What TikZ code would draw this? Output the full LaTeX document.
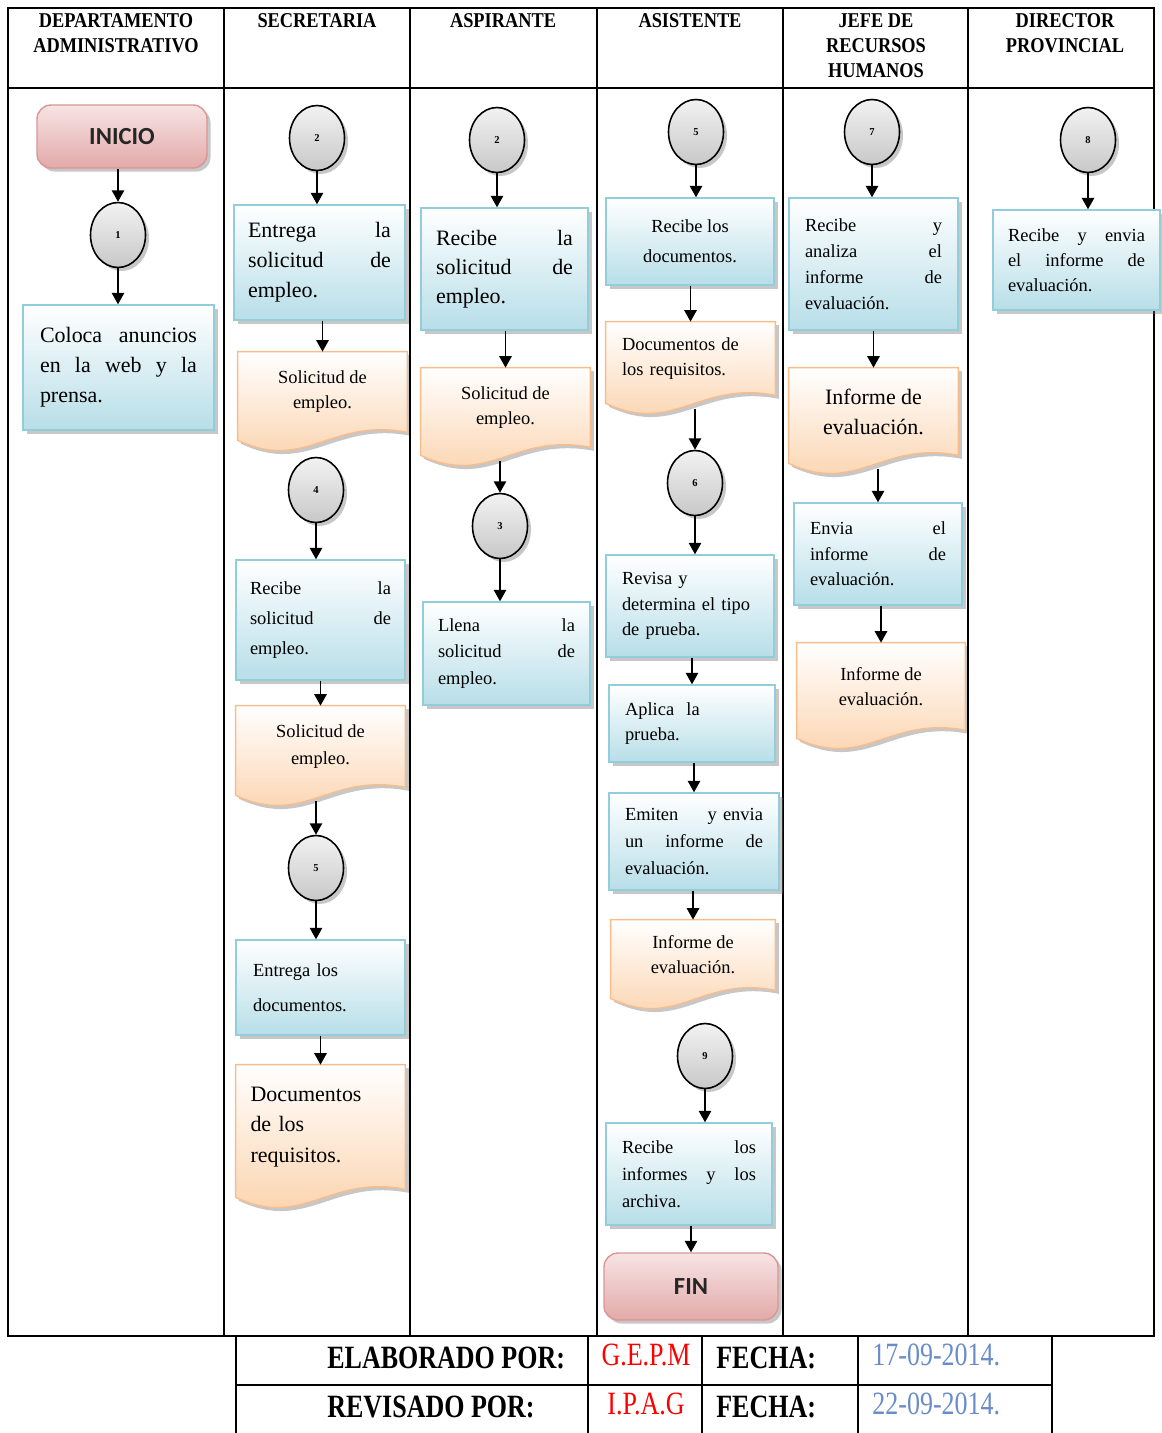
\documentclass[tikz,border=0pt]{standalone}
\usepackage{fontspec}
\setmainfont{Liberation Serif}
\newfontfamily\hdrfont[FakeStretch=0.87]{Liberation Serif}
\newfontfamily\ftrfont[FakeStretch=0.8]{Liberation Serif}
\newfontfamily\termfont{Carlito}
\usetikzlibrary{arrows.meta,positioning,shapes.geometric,shadows,calc}
\definecolor{boxbot}{HTML}{B7DEE8}
\definecolor{boxline}{HTML}{92CDDC}
\definecolor{docbot}{HTML}{FBCFA6}
\definecolor{docline}{HTML}{F9BD8C}
\definecolor{termtop}{HTML}{F7E4E4}
\definecolor{termbot}{HTML}{E3A9A9}
\definecolor{termline}{HTML}{D99694}
\definecolor{conntop}{HTML}{F2F2F2}
\definecolor{connbot}{HTML}{C8C8C8}
\definecolor{redtxt}{HTML}{FF0000}
\definecolor{datetxt}{HTML}{6A8CC8}
\pgfdeclarelayer{bg}
\pgfsetlayers{bg,main}
\begin{document}
\begin{tikzpicture}[
  x=0.02cm, y=-0.02cm,
  sz/.style 2 args={minimum width=#1*0.02cm, minimum height=#2*0.02cm},
  shd/.style={drop shadow={shadow xshift=2pt, shadow yshift=-2pt, opacity=0.4, fill=black!55}},
  hdr/.style={font=\hdrfont\bfseries\fontsize{12}{14.4}\selectfont, align=center, anchor=north, inner sep=0pt},
  term/.style={draw=termline, line width=0.8pt, rounded corners=8pt, top color=termtop, bottom color=termbot, shd, text=black!85, font=\termfont\bfseries\fontsize{14}{16}\selectfont},
  conn/.style={ellipse, draw=black, line width=0.9pt, top color=conntop, bottom color=connbot, shd, sz={55}{65}, inner sep=0pt, font=\bfseries\fontsize{6}{7}\selectfont},
  proc/.style={draw=boxline, line width=0.8pt, top color=white, bottom color=boxbot, shd, align=left, inner sep=0pt},
  docnode/.style={align=center, inner sep=0pt},
  docshape/.style={draw=docline, line width=0.8pt, top color=white, bottom color=docbot, shd},
  txtL/.style={font=\fontsize{12.5}{#1}\selectfont}, txtL/.default=17,
  txtS/.style={font=\fontsize{10.5}{#1}\selectfont}, txtS/.default=14.5,
  arr/.style={-{Triangle[width=7pt,length=6.5pt]}, line width=1pt},
  lane/.style={line width=1.2pt},
  ftr/.style={font=\ftrfont\bfseries\fontsize{18.5}{20}\selectfont, anchor=west, inner sep=0pt},
  ftrval/.style={font=\ftrfont\fontsize{18.5}{20}\selectfont, inner sep=0pt},
]
\useasboundingbox (0,0) rectangle (1162,1433);

\draw[lane] (8,8) rectangle (1154,1336);
\draw[lane] (8,88) -- (1154,88);
\foreach \x in {224,410,597,783,968} \draw[lane] (\x,8) -- (\x,1336);

\node[hdr] (hDep) at (116,13) {DEPARTAMENTO\\ADMINISTRATIVO};
\node[hdr] (hSec) at (317,13) {SECRETARIA};
\node[hdr] (hAsp) at (503,13) {ASPIRANTE};
\node[hdr] (hAsi) at (690,13) {ASISTENTE};
\node[hdr] (hJefe) at (876,13) {JEFE DE\\RECURSOS\\HUMANOS};
\node[hdr] (hDir) at (1065,13) {DIRECTOR\\PROVINCIAL};

\node[term, sz={170}{63}] (inicio) at (122,136.5) {INICIO};
\node[conn] (c1) at (118,235) {1};
\node[proc, sz={191}{125}, txtL=17, text width=3.14cm] (daBox) at (118.5,367.5) {Coloca\hfill anuncios\\en\hfill la\hfill web\hfill y\hfill la\\prensa.};

\node[conn] (c2s) at (317,138) {2};
\node[proc, sz={171}{115}, txtL=17, text width=2.86cm] (secBoxA) at (319.5,262.5) {Entrega\hfill la\\solicitud\hfill de\\empleo.};
\node[docnode, sz={169}{80}, txtS=14.2] (secDocA) at (322.5,392) {Solicitud de\\empleo.};
\node[conn] (c4) at (316,490) {4};
\node[proc, sz={169}{120}, txtS=17, text width=2.82cm] (secBoxB) at (320.5,620) {Recibe\hfill la\\solicitud\hfill de\\empleo.};
\node[docnode, sz={169}{81}, txtS=15.3] (secDocB) at (320.5,746.5) {Solicitud de\\empleo.};
\node[conn] (c5s) at (316,868) {5};
\node[proc, sz={169}{95}, txtS=19.8, text width=2.7cm] (secBoxC) at (320.5,987.5) {Entrega los\\documentos.};
\node[docnode, sz={169}{124}, txtL=17.3, align=left, text width=2.8cm] (secDocC) at (320.5,1127) {Documentos\\de los\\requisitos.};

\node[conn] (c2a) at (497,140) {2};
\node[proc, sz={167}{122}, txtL=16.4, text width=2.74cm] (aspBoxA) at (504.5,269) {Recibe\hfill la\\solicitud\hfill de\\empleo.};
\node[docnode, sz={169}{79}, txtS=14.2] (aspDoc) at (505.5,407.5) {Solicitud de\\empleo.};
\node[conn] (c3) at (500,526) {3};
\node[proc, sz={167}{103}, txtS=15.3, text width=2.74cm] (aspBoxB) at (506.5,653.5) {Llena\hfill la\\solicitud\hfill de\\empleo.};

\node[conn] (c5a) at (696,132) {5};
\node[proc, sz={168}{87}, txtS=17, align=center] (asiBoxA) at (690,241.5) {Recibe los\\documentos.};
\node[docnode, sz={169}{73}, txtS=14.2, align=left, text width=2.74cm] (asiDocA) at (690.5,358.5) {Documentos de\\los requisitos.};
\node[conn] (c6) at (695,483) {6};
\node[proc, sz={168}{102}, txtS=14.7, text width=2.72cm] (asiBoxB) at (690,606) {Revisa y\\determina el tipo\\de prueba.};
\node[proc, sz={166}{77}, txtS=14.7, text width=2.68cm] (asiBoxC) at (692,723.5) {Aplica~~la\\prueba.};
\node[proc, sz={170}{97}, txtS=15.3, text width=2.76cm] (asiBoxD) at (694,841.5) {Emiten\hfill y envia\\un\hfill informe\hfill de\\evaluación.};
\node[docnode, sz={164}{70}, txtS=14.2] (asiDocB) at (693,955) {Informe de\\evaluación.};
\node[conn] (c9) at (705,1056) {9};
\node[proc, sz={166}{102}, txtS=15.3, text width=2.68cm] (asiBoxE) at (689,1174) {Recibe\hfill los\\informes\hfill y\hfill los\\archiva.};
\node[term, sz={174}{67}] (fin) at (691,1286.5) {FIN};

\node[conn] (c7) at (872,132) {7};
\node[proc, sz={169}{132}, txtS=14.9, text width=2.74cm] (jefeBoxA) at (873.5,264) {Recibe\hfill y\\analiza\hfill el\\informe\hfill de\\evaluación.};
\node[docnode, sz={169}{87}, txtL=17] (jefeDocA) at (873.5,411.5) {Informe de\\evaluación.};
\node[proc, sz={168}{102}, txtS=14.5, text width=2.72cm] (jefeBoxB) at (878,554) {Envia\hfill el\\informe\hfill de\\evaluación.};
\node[docnode, sz={168}{87}, txtS=14.2] (jefeDocB) at (881,686.5) {Informe de\\evaluación.};

\node[conn] (c8) at (1088,140) {8};
\node[proc, sz={167}{100}, txtS=14.2, text width=2.74cm] (dirBox) at (1076.5,260) {Recibe\hfill y\hfill envia\\el\hfill informe\hfill de\\evaluación.};

\begin{pgfonlayer}{bg}
\foreach \d in {secDocA,secDocB,secDocC,aspDoc,asiDocA,asiDocB,jefeDocA,jefeDocB}
  \path[docshape] (\d.north west) -- (\d.north east) -- (\d.south east)
    .. controls ($(\d.south east)!0.45!(\d.south west)+(0,-15)$) and ($(\d.south west)!0.4!(\d.south east)+(0,40)$) .. ($(\d.south west)+(0,8)$) -- cycle;
\end{pgfonlayer}

\foreach \a/\b in {c1/daBox, c2s/secBoxA, c4/secBoxB, c5s/secBoxC, c2a/aspBoxA, c3/aspBoxB, c5a/asiBoxA, c6/asiBoxB, c9/asiBoxE, c7/jefeBoxA, c8/dirBox}
  \draw[arr] (\a.south) -- (\a.south |- \b.north);
\foreach \a/\b in {inicio/c1, secBoxA/secDocA, secBoxB/secDocB, secBoxC/secDocC, aspBoxA/aspDoc, asiBoxA/asiDocA, asiBoxB/asiBoxC, asiBoxC/asiBoxD, asiBoxD/asiDocB, asiBoxE/fin, jefeBoxA/jefeDocA, jefeBoxB/jefeDocB}
  \draw[arr] (\a.south -| \b.north) -- (\b.north);
\foreach \a/\b in {secDocB/c5s, aspDoc/c3, asiDocA/c6, jefeDocA/jefeBoxB}
  \draw[arr] ($(\a.south -| \b.north)+(0,14)$) -- (\b.north);

\draw[lane] (236,1336) -- (236,1433);
\draw[lane] (236,1385) -- (1052,1385);
\foreach \x in {588,702,858,1052} \draw[lane] (\x,1336) -- (\x,1433);

\node[ftr] (elab) at (327,1358) {ELABORADO POR:};
\node[ftrval, text=redtxt] (elabName) at (646,1355) {G.E.P.M};
\node[ftr] (elabFecha) at (716,1358) {FECHA:};
\node[ftrval, text=datetxt, anchor=west] (elabDate) at (872,1355) {17-09-2014.};
\node[ftr] (rev) at (327,1407) {REVISADO POR:};
\node[ftrval, text=redtxt] (revName) at (646,1404) {I.P.A.G};
\node[ftr] (revFecha) at (716,1407) {FECHA:};
\node[ftrval, text=datetxt, anchor=west] (revDate) at (872,1404) {22-09-2014.};
\end{tikzpicture}
\end{document}
